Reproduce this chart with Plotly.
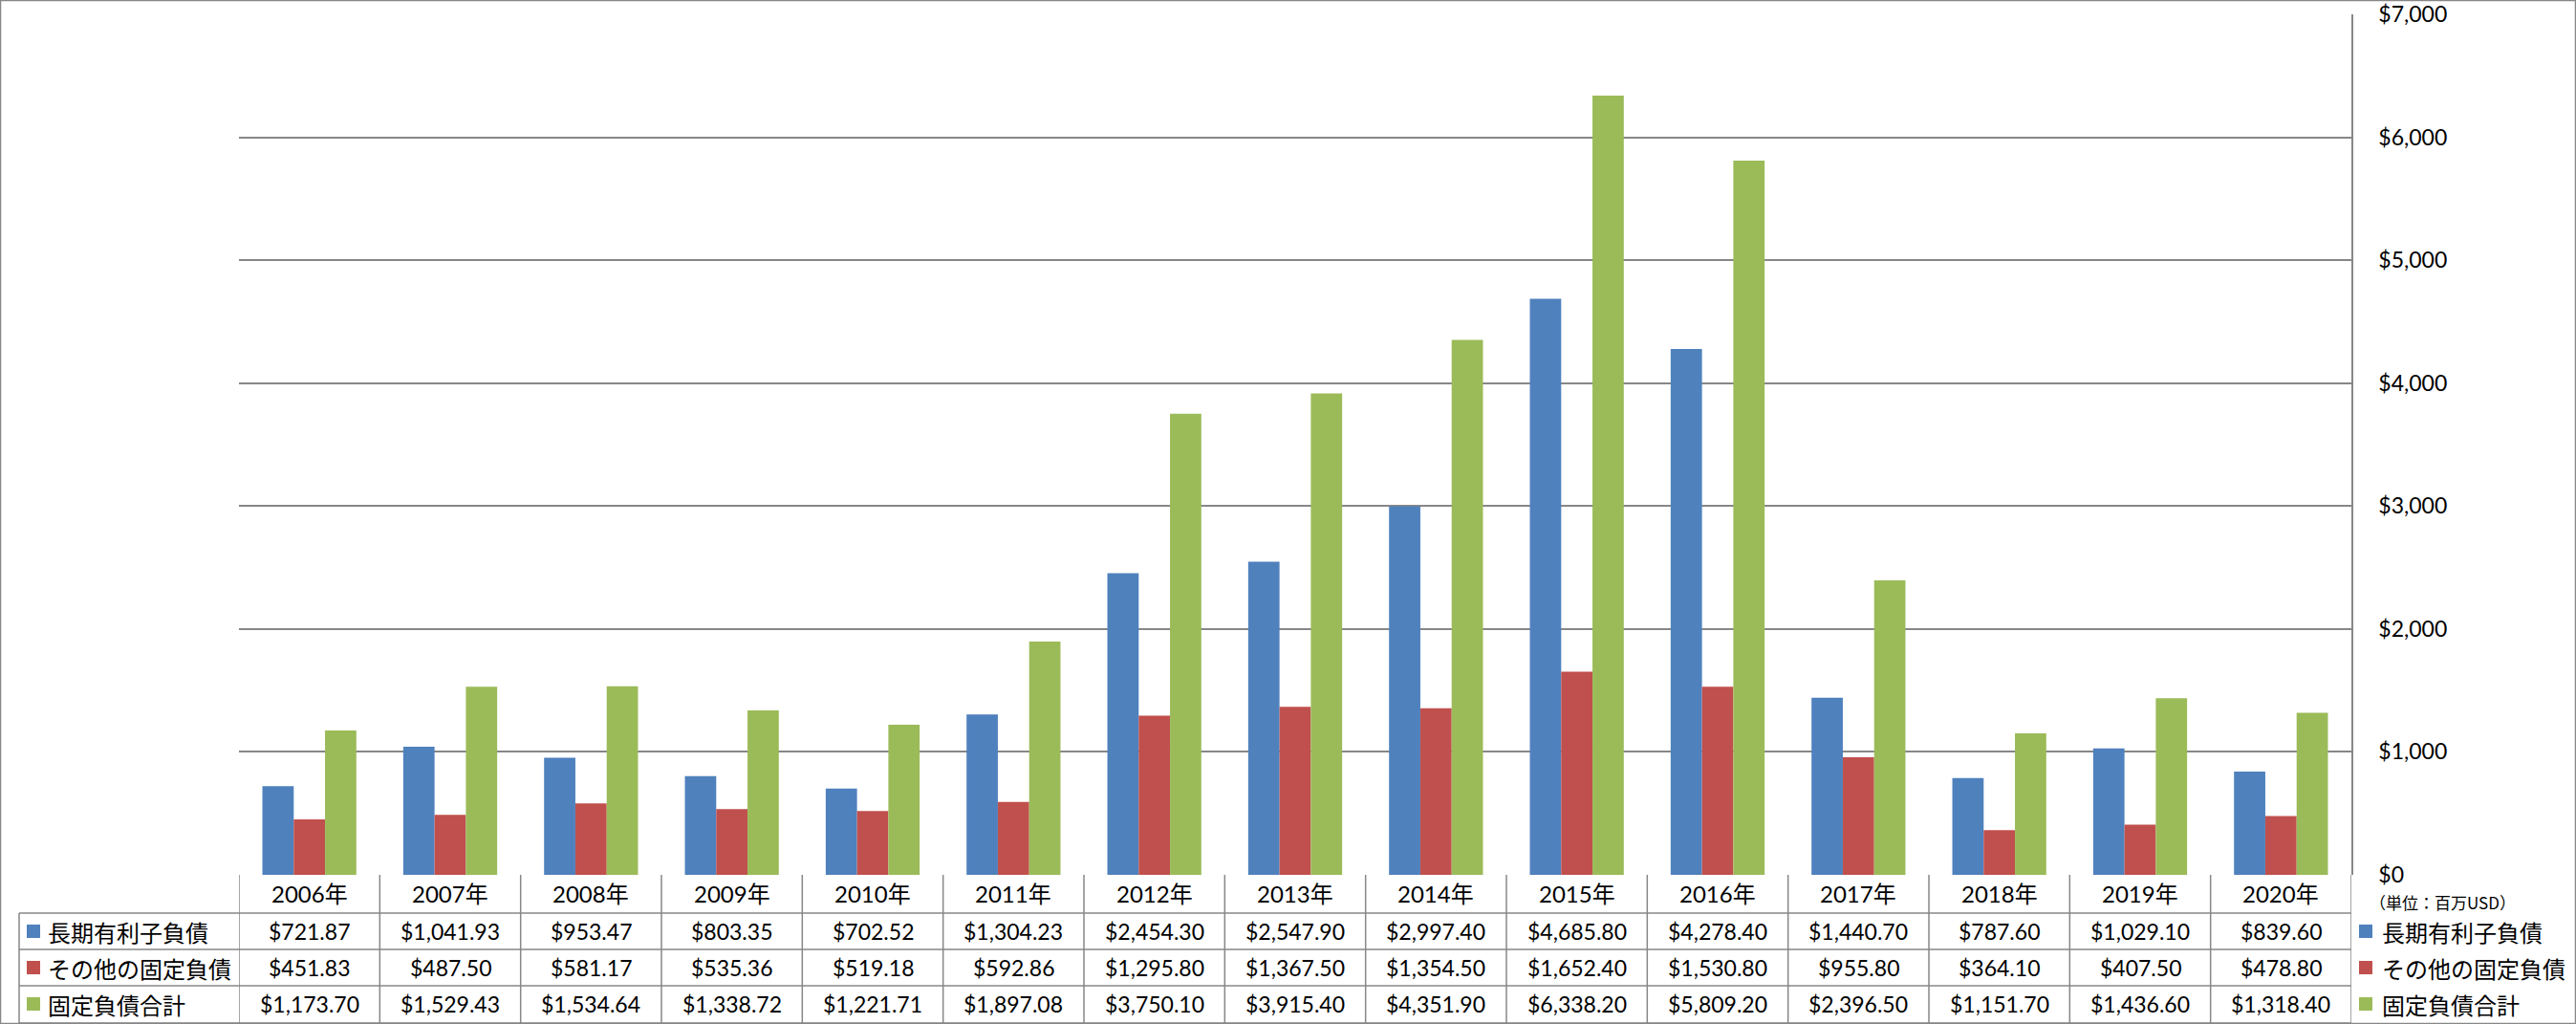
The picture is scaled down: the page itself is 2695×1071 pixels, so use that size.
import plotly.graph_objects as go

years = ["2006年", "2007年", "2008年", "2009年", "2010年", "2011年", "2012年", "2013年",
         "2014年", "2015年", "2016年", "2017年", "2018年", "2019年", "2020年"]
series_names = ["長期有利子負債", "その他の固定負債", "固定負債合計"]
long_term_debt = [721.87, 1041.93, 953.47, 803.35, 702.52, 1304.23, 2454.30, 2547.90,
                  2997.40, 4685.80, 4278.40, 1440.70, 787.60, 1029.10, 839.60]
other_fixed = [451.83, 487.50, 581.17, 535.36, 519.18, 592.86, 1295.80, 1367.50,
               1354.50, 1652.40, 1530.80, 955.80, 364.10, 407.50, 478.80]
total_fixed = [1173.70, 1529.43, 1534.64, 1338.72, 1221.71, 1897.08, 3750.10, 3915.40,
               4351.90, 6338.20, 5809.20, 2396.50, 1151.70, 1436.60, 1318.40]
unit_label = "（単位：百万USD）"

colors = ["#4F81BD", "#C0504D", "#9BBB59"]
all_series = [long_term_debt, other_fixed, total_fixed]

W, H = 2695, 1071
L, R, T, B = 250, 2460, 15, 915
PW, PH = R - L, B - T
GRID = "#878787"
FONT = "Lato, 'Noto Sans CJK JP', sans-serif"
CJK = "'Noto Sans CJK JP', sans-serif"


def xp(px):
    return (px - L) / PW


def yp(py):
    return (B - py) / PH


fig = go.Figure()
for name, vals, col in zip(series_names, all_series, colors):
    fig.add_trace(go.Bar(x=years, y=vals, name=name, marker=dict(color=col, line=dict(width=0)),
                         showlegend=False))

shapes = []
annotations = []

# outer border
shapes.append(dict(type="rect", xref="paper", yref="paper", x0=xp(0.5), x1=xp(W - 0.5),
                   y0=yp(H - 0.5), y1=yp(0.5), line=dict(color=GRID, width=1.5)))

# table horizontal lines
for py in [955, 993, 1031, 1070]:
    shapes.append(dict(type="line", xref="paper", yref="paper", x0=xp(20), x1=xp(R),
                       y0=yp(py), y1=yp(py), line=dict(color=GRID, width=1.5)))
# left border of series label column
shapes.append(dict(type="line", xref="paper", yref="paper", x0=xp(20), x1=xp(20),
                   y0=yp(955), y1=yp(1070), line=dict(color=GRID, width=1.5)))
# category separators
for i in range(len(years) + 1):
    shapes.append(dict(type="line", xref="x", yref="paper", x0=i - 0.5, x1=i - 0.5,
                       y0=yp(915), y1=yp(1070), line=dict(color=GRID, width=1.5)))

row_y = [974, 1012, 1050]
# header row
for i, yr in enumerate(years):
    annotations.append(dict(x=i, y=yp(935), xref="x", yref="paper", text=yr, showarrow=False,
                            font=dict(family=FONT, size=24, color="#000"), xanchor="center",
                            yanchor="middle"))
# value rows
for vals, ry in zip(all_series, row_y):
    for i, v in enumerate(vals):
        annotations.append(dict(x=i, y=yp(ry), xref="x", yref="paper", text=f"${v:,.2f}",
                                showarrow=False, font=dict(family=FONT, size=23, color="#000"),
                                xanchor="center", yanchor="middle"))

# series labels in table and legend on right
for name, col, ry in zip(series_names, colors, row_y):
    for sx, tx in [(28, 48), (2468, 2490)]:
        shapes.append(dict(type="rect", xref="paper", yref="paper", x0=xp(sx), x1=xp(sx + 14),
                           y0=yp(ry + 7), y1=yp(ry - 7), fillcolor=col, line=dict(width=0)))
        annotations.append(dict(x=xp(tx), y=yp(ry), xref="paper", yref="paper", text=name,
                                showarrow=False, font=dict(family=CJK, size=24, color="#000"),
                                xanchor="left", yanchor="middle"))

annotations.append(dict(x=xp(2477), y=yp(944), xref="paper", yref="paper", text=unit_label,
                        showarrow=False, font=dict(family=CJK, size=17, color="#000"),
                        xanchor="left", yanchor="middle"))

fig.update_layout(
    width=W, height=H,
    margin=dict(l=L, r=W - R, t=T, b=H - B, pad=0, autoexpand=False),
    paper_bgcolor="white", plot_bgcolor="white",
    barmode="group", bargap=0.333, bargroupgap=0,
    shapes=shapes, annotations=annotations,
    xaxis=dict(showticklabels=False, showgrid=False, zeroline=False, showline=False,
               automargin=False, range=[-0.5, len(years) - 0.5], fixedrange=True),
    yaxis=dict(side="right", range=[0, 7000], dtick=1000, tickprefix="$", tickformat=",",
               showgrid=True, gridcolor=GRID, gridwidth=1.5, zeroline=False, automargin=False,
               showline=True, linecolor=GRID, linewidth=1.5, ticks="",
               ticklabelstandoff=22,
               tickfont=dict(family=FONT, size=23, color="#000"), fixedrange=True),
    font=dict(family=FONT),
)

fig.write_html("out.html", config={"displayModeBar": False},
               post_script="document.body.style.margin='0px';document.body.style.overflow='hidden';")
